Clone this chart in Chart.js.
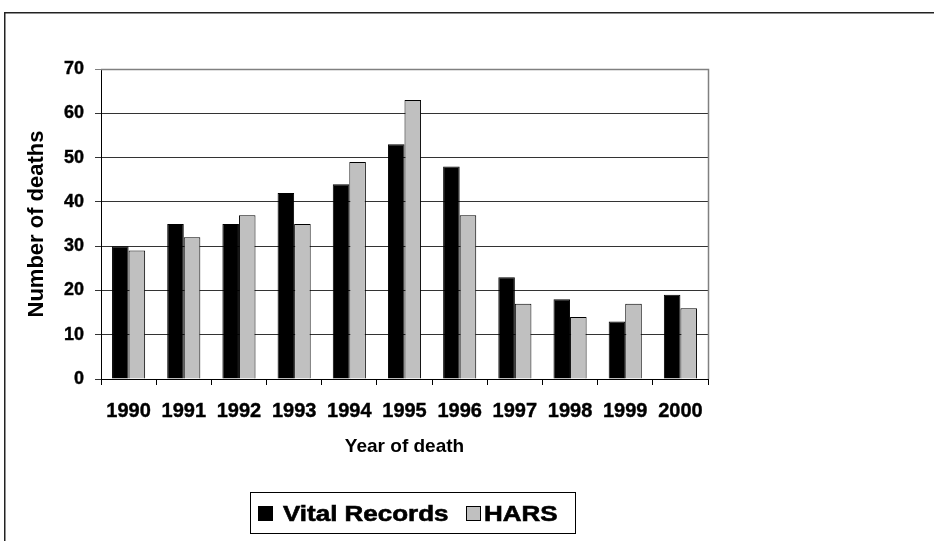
<!DOCTYPE html>
<html>
<head>
<meta charset="utf-8">
<script src="https://cdn.jsdelivr.net/npm/chart.js@4/dist/chart.umd.min.js"></script>
<style>
  html, body { margin: 0; padding: 0; background: #fff; }
  #wrap { width: 934px; height: 541px; position: relative; }
</style>
</head>
<body>
<div id="wrap"><canvas id="c" width="934" height="541"></canvas></div>
<script>
const years = ['1990','1991','1992','1993','1994','1995','1996','1997','1998','1999','2000'];
const vitalRecords = [30, 35, 35, 42, 44, 53, 48, 23, 18, 13, 19];
const hars = [29, 32, 37, 35, 49, 63, 37, 17, 14, 17, 16];
const seriesNames = ['Vital Records', 'HARS'];
const yTitle = 'Number of deaths';
const xTitle = 'Year of death';

const FONT = '"Liberation Sans", Arial, Helvetica, sans-serif';

const framePlugin = {
  id: 'frame',
  beforeDraw(chart) {
    const ctx = chart.ctx;
    ctx.save();
    ctx.fillStyle = '#fff';
    ctx.fillRect(0, 0, chart.width, chart.height);
    ctx.strokeStyle = '#222';
    ctx.lineWidth = 1.5;
    ctx.strokeRect(4.75, 12.75, 1000, 1000);
    ctx.restore();
  },
  afterDatasetsDraw(chart) {
    const ctx = chart.ctx;
    const a = chart.chartArea;
    ctx.save();
    ctx.strokeStyle = '#808080';
    ctx.lineWidth = 1.5;
    ctx.beginPath();
    ctx.moveTo(a.left, a.top + 0.5);
    ctx.lineTo(a.right + 0.5, a.top + 0.5);
    ctx.lineTo(a.right + 0.5, a.bottom);
    ctx.stroke();
    ctx.restore();
  },
  afterDraw(chart) {
    const ctx = chart.ctx;
    ctx.save();
    ctx.strokeStyle = '#000';
    ctx.lineWidth = 1;
    ctx.strokeRect(250.5, 492.5, 325, 41);
    const items = [
      { sq: 258, tx: 283, ds: chart.data.datasets[0] },
      { sq: 466, tx: 484, ds: chart.data.datasets[1] }
    ];
    ctx.font = 'bold 22px ' + FONT;
    ctx.textBaseline = 'alphabetic';
    ctx.textAlign = 'left';
    items.forEach(it => {
      ctx.fillStyle = it.ds.backgroundColor;
      ctx.fillRect(it.sq, 506, 15, 15);
      ctx.strokeStyle = '#000';
      ctx.lineWidth = 1;
      ctx.strokeRect(it.sq + 0.5, 506.5, 14, 14);
      ctx.save();
      ctx.translate(it.tx, 521);
      ctx.scale(1.18, 1);
      ctx.fillStyle = '#000';
      ctx.fillText(it.ds.label, 0, 0);
      ctx.strokeStyle = '#000';
      ctx.lineWidth = 0.6;
      ctx.strokeText(it.ds.label, 0, 0);
      ctx.restore();
    });
    ctx.restore();
  }
};

new Chart(document.getElementById('c'), {
  type: 'bar',
  data: {
    labels: years,
    datasets: [
      { label: seriesNames[0], data: vitalRecords, backgroundColor: '#000000', borderColor: '#000000', borderWidth: 1 },
      { label: seriesNames[1], data: hars, backgroundColor: '#c0c0c0', borderColor: '#000000', borderWidth: 1 }
    ]
  },
  options: {
    responsive: false,
    animation: false,
    devicePixelRatio: 1,
    layout: { padding: { top: 69, left: 0, right: 226, bottom: 62 } },
    datasets: { bar: { categoryPercentage: 0.6, barPercentage: 1.0 } },
    plugins: {
      legend: { display: false },
      tooltip: { enabled: false },
      title: { display: false }
    },
    scales: {
      x: {
        offset: true,
        afterFit(scale) { scale.height = 100; },
        grid: { display: true, drawOnChartArea: false, offset: true, tickLength: 6, color: '#000', lineWidth: 1 },
        border: { display: true, color: '#000', width: 1 },
        ticks: { color: '#000', font: { family: FONT, size: 20, weight: 'bold' }, padding: 14, maxRotation: 0, autoSkip: false, textStrokeColor: '#000', textStrokeWidth: 0.4 },
        title: { display: true, text: xTitle, color: '#000', font: { family: FONT, size: 19, weight: 'bold' }, padding: { top: 0, bottom: 21 } }
      },
      y: {
        min: 0,
        max: 70,
        afterFit(scale) { scale.width = 101; },
        grid: {
          display: true,
          drawOnChartArea: true,
          tickLength: 6,
          color: (c) => (c.tick && c.tick.value === 70 ? '#808080' : '#333'),
          lineWidth: 1
        },
        border: { display: true, color: '#000', width: 1 },
        ticks: { stepSize: 10, color: '#000', font: { family: FONT, size: 18, weight: 'bold' }, padding: 11, textStrokeColor: '#000', textStrokeWidth: 0.4 },
        title: { display: true, text: yTitle, color: '#000', font: { family: FONT, size: 22, weight: 'bold' }, padding: { top: 24, bottom: 0 } }
      }
    }
  },
  plugins: [framePlugin]
});
</script>
</body>
</html>
